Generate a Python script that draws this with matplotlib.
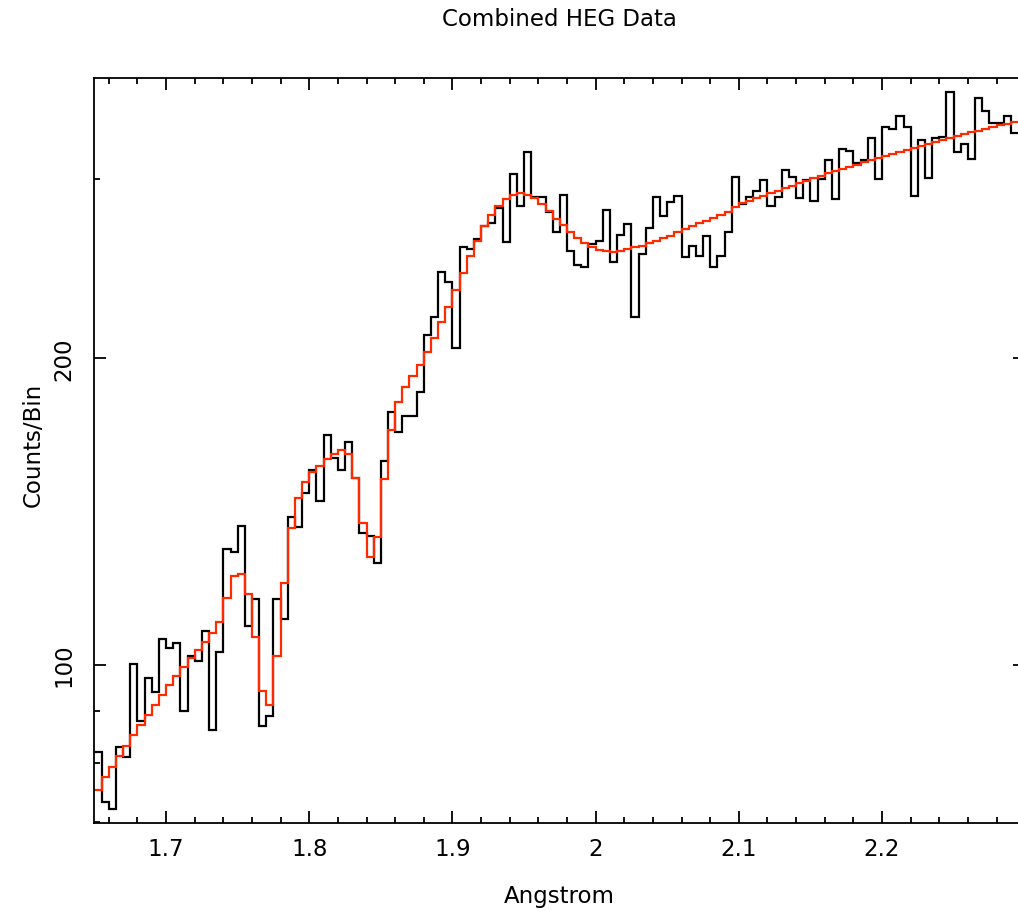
import numpy as np
import matplotlib
matplotlib.use("Agg")
import matplotlib.pyplot as plt
from matplotlib.ticker import FixedLocator, NullFormatter

# HEG spectrum, 0.005 A bins starting at 1.650 A
bin_start = 1.650
bin_width = 0.005

counts = [82.0, 73.3, 72.1, 83.1, 81.1, 100.2, 88.1, 97.0, 94.1, 106.0,
          103.9, 105.0, 90.1, 102.0, 100.9, 108.0, 86.3, 103.0, 129.9, 128.9,
          136.8, 109.1, 116.0, 87.1, 89.1, 116.0, 110.9, 139.6, 136.6, 147.5,
          155.5, 144.7, 168.3, 159.6, 155.5, 165.4, 152.6, 134.7, 133.7, 125.8,
          158.4, 177.2, 169.4, 175.4, 175.4, 185.2, 210.8, 219.4, 243.3, 237.5,
          204.8, 257.0, 256.0, 261.9, 269.9, 271.6, 280.8, 259.9, 303.6, 282.4,
          319.1, 287.8, 287.8, 278.6, 265.9, 289.5, 255.1, 247.2, 245.8, 259.0,
          260.9, 279.9, 248.8, 264.3, 271.0, 219.7, 253.2, 268.4, 287.8, 275.8,
          284.6, 288.5, 251.3, 258.0, 252.2, 263.9, 245.8, 252.2, 265.9, 301.2,
          283.5, 287.8, 292.2, 299.3, 282.4, 288.2, 306.2, 301.6, 287.3, 299.3,
          285.6, 300.0, 313.2, 286.7, 321.1, 319.8, 310.9, 313.2, 329.1, 300.0,
          337.6, 335.9, 345.7, 337.6, 288.5, 327.9, 300.5, 328.9, 329.7, 365.5,
          319.1, 324.7, 314.0, 360.3, 350.1, 340.4, 340.4, 345.7, 332.7]

model = [75.4, 77.5, 79.4, 81.4, 83.2, 85.3, 87.3, 89.3, 91.3, 93.4,
         95.4, 97.4, 99.4, 101.5, 103.4, 105.3, 107.4, 110.2, 116.3, 122.3,
         122.8, 117.3, 106.4, 94.3, 91.3, 101.9, 120.2, 136.1, 145.8, 151.3,
         154.5, 156.9, 159.3, 161.2, 162.5, 161.1, 152.6, 137.7, 127.7, 133.6,
         152.2, 170.2, 181.3, 187.3, 192.0, 197.0, 203.0, 209.4, 217.0, 224.8,
         233.4, 242.6, 251.9, 260.9, 269.5, 276.5, 282.4, 286.7, 289.5, 290.4,
         289.5, 287.1, 283.5, 279.3, 274.3, 270.2, 265.9, 262.5, 259.4, 257.0,
         255.7, 254.7, 254.5, 255.1, 256.0, 257.0, 258.0, 259.4, 260.9, 262.3,
         263.9, 265.9, 267.9, 269.5, 271.4, 273.1, 274.9, 276.5, 278.6, 281.3,
         284.0, 285.6, 287.1, 288.8, 290.4, 292.2, 293.8, 295.5, 297.1, 298.9,
         300.5, 302.1, 303.9, 305.3, 306.7, 308.3, 309.9, 311.6, 313.2, 314.6,
         316.1, 317.7, 319.1, 320.6, 322.0, 323.5, 325.0, 326.4, 327.9, 329.1,
         330.4, 331.9, 333.4, 334.7, 335.9, 337.4, 338.8, 340.0, 341.6]

edges = bin_start + bin_width * np.arange(len(counts) + 1)

x_major = [1.7, 1.8, 1.9, 2.0, 2.1, 2.2]
x_labels = ["1.7", "1.8", "1.9", "2", "2.1", "2.2"]
y_major = [100, 200]
y_minor = [70, 80, 90, 300]

fig = plt.figure(figsize=(10.18, 9.12), dpi=100)
ax = fig.add_axes([0.0928, 0.0965, 0.9143, 0.8169])

ax.stairs(counts, edges, baseline=None, color="black", linewidth=1.6)
ax.stairs(model, edges, baseline=None, color="#ff2a00", linewidth=1.6)

ax.set_yscale("log")
ax.set_xlim(1.65, 2.30)
ax.set_ylim(69.9, 377)

ax.set_xticks(x_major, labels=x_labels)
ax.xaxis.set_minor_locator(FixedLocator(np.arange(1.66, 2.30, 0.02)))
ax.set_yticks(y_major, labels=[str(v) for v in y_major])
ax.yaxis.set_minor_locator(FixedLocator(y_minor))
ax.yaxis.set_minor_formatter(NullFormatter())

ax.tick_params(which="both", direction="in", top=True, right=True, width=1.3)
ax.tick_params(which="major", length=8.6)
ax.tick_params(which="minor", length=4.3)
ax.tick_params(axis="x", labelsize=16.5, pad=10)
ax.tick_params(axis="y", labelsize=16.5, pad=14, labelrotation=90)
for lab in ax.get_yticklabels():
    lab.set_va("center")

for s in ax.spines.values():
    s.set_linewidth(1.3)

fig.text(559.8 / 1018, 1 - 20 / 912, "Combined HEG Data", ha="center", va="center", fontsize=16.5)
fig.text(559.8 / 1018, 1 - 897 / 912, "Angstrom", ha="center", va="center", fontsize=16.5)
fig.text(33 / 1018, 1 - 445 / 912, "Counts/Bin", ha="center", va="center", rotation=90, fontsize=16.5)

fig.savefig("out.png", dpi=100)
